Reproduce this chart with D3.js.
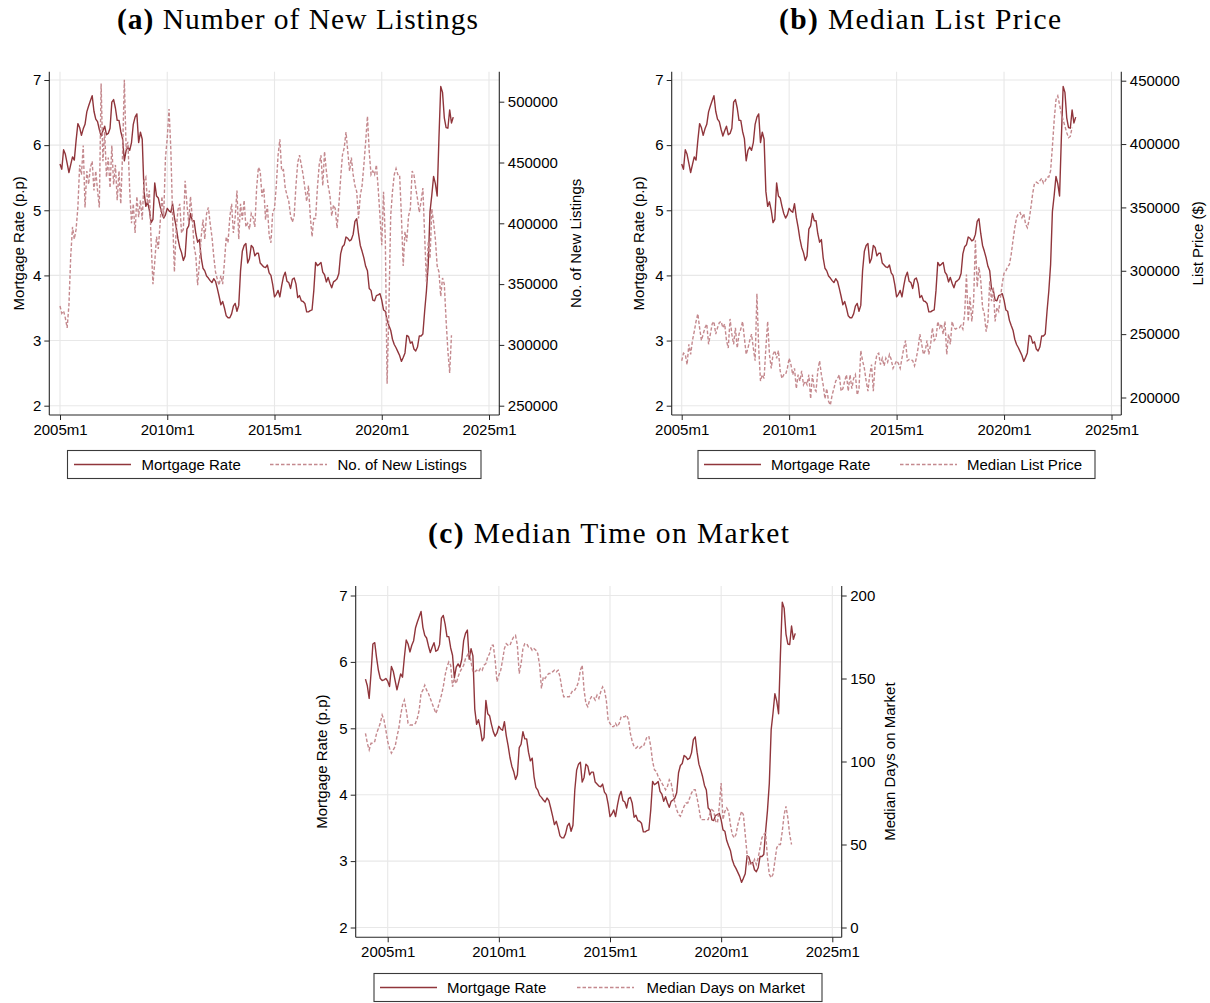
<!DOCTYPE html>
<html>
<head>
<meta charset="utf-8">
<script src="https://cdn.jsdelivr.net/npm/d3@7"></script>
<style>
  body { margin: 0; background: #fff; }
  svg text { font-family: "Liberation Sans", Arial, sans-serif; fill: #000; }
  svg text.title { font-family: "Liberation Serif", "Times New Roman", serif; }
</style>
</head>
<body>
<svg id="chart" width="1210" height="1003"></svg>
<script>
// ---- Data -----------------------------------------------------------
// Month index: 0 = 2005m1, -12 = 2004m1.

// 30-year fixed mortgage rate, monthly, 2004m1 - 2023m5
const rateStart = -12;
const mortgageRate = [
  5.74,5.64,5.45,5.83,6.27,6.29,6.06,5.87,5.75,5.72,5.73,5.75,
  5.71,5.63,5.93,5.86,5.72,5.58,5.70,5.82,5.77,6.07,6.33,6.27,
  6.15,6.25,6.32,6.51,6.60,6.68,6.76,6.52,6.40,6.36,6.24,6.14,
  6.22,6.29,6.16,6.18,6.26,6.66,6.70,6.57,6.38,6.38,6.21,6.10,
  5.76,5.92,5.97,5.92,6.04,6.32,6.43,6.48,6.04,6.20,6.09,5.29,
  5.06,5.13,5.00,4.81,4.86,5.42,5.22,5.19,5.06,4.95,4.88,4.93,
  5.03,4.99,4.97,5.10,4.89,4.74,4.56,4.43,4.35,4.23,4.30,4.71,
  4.76,4.95,4.84,4.84,4.64,4.51,4.55,4.27,4.11,4.07,3.99,3.96,
  3.92,3.89,3.95,3.91,3.80,3.68,3.55,3.60,3.50,3.38,3.35,3.35,
  3.41,3.53,3.57,3.45,3.54,4.07,4.37,4.46,4.49,4.19,4.26,4.46,
  4.43,4.30,4.34,4.34,4.19,4.16,4.13,4.12,4.16,4.04,4.00,3.86,
  3.67,3.71,3.77,3.67,3.84,3.98,4.05,3.91,3.89,3.80,3.94,3.96,
  3.87,3.66,3.69,3.61,3.60,3.57,3.44,3.44,3.46,3.47,3.77,4.20,
  4.15,4.17,4.20,4.05,4.01,3.90,3.97,3.88,3.81,3.90,3.92,3.95,
  4.03,4.33,4.44,4.47,4.59,4.57,4.53,4.55,4.63,4.83,4.87,4.64,
  4.46,4.37,4.27,4.14,4.07,3.80,3.77,3.62,3.61,3.69,3.70,3.72,
  3.62,3.47,3.45,3.31,3.23,3.16,3.02,2.94,2.89,2.83,2.77,2.68,
  2.74,2.81,3.08,3.06,2.96,2.98,2.87,2.84,2.90,3.07,3.07,3.10,
  3.45,3.76,4.17,4.98,5.23,5.52,5.41,5.22,6.11,6.90,6.81,6.42,
  6.27,6.26,6.54,6.34,6.43
];

// Number of new listings, monthly, 2005m1 - 2023m4
const listingsStart = 0;
const newListings = [
  332000,326000,328000,322000,314000,333000,373000,397000,387000,395000,413000,448000,
  440000,464000,413000,443000,432000,446000,451000,427000,443000,427000,413000,515000,
  451000,475000,438000,454000,429000,464000,432000,448000,419000,443000,416000,457000,
  518000,461000,467000,427000,400000,416000,392000,422000,405000,419000,403000,435000,
  438000,416000,427000,384000,350000,368000,389000,379000,400000,422000,405000,454000,
  470000,494000,461000,405000,360000,395000,411000,416000,392000,395000,435000,416000,
  400000,422000,405000,381000,373000,349000,368000,389000,403000,387000,408000,413000,
  400000,389000,373000,360000,354000,349000,357000,350000,368000,389000,384000,405000,
  416000,392000,405000,427000,387000,416000,403000,419000,397000,400000,395000,408000,
  405000,397000,429000,446000,443000,422000,429000,403000,415000,390000,384000,409000,
  412000,431000,456000,469000,443000,444000,429000,423000,418000,406000,401000,406000,
  431000,450000,456000,448000,440000,429000,418000,431000,406000,389000,404000,404000,
  429000,448000,456000,431000,459000,443000,431000,423000,406000,415000,412000,396000,
  415000,437000,456000,462000,475000,459000,443000,454000,440000,431000,426000,404000,
  423000,431000,448000,467000,488000,459000,440000,443000,440000,448000,429000,406000,
  382000,426000,387000,268000,330000,406000,426000,440000,445000,440000,440000,406000,
  365000,393000,385000,406000,412000,443000,440000,429000,420000,409000,418000,429000,
  390000,352000,385000,371000,412000,401000,387000,365000,360000,340000,355000,350000,
  320000,295000,277000,308000
];

// Median list price ($), monthly, 2005m1 - 2023m3
const priceStart = 0;
const listPrice = [
  229000,235000,234000,226000,242000,234000,245000,252000,260000,266000,255000,245000,
  250000,255000,258000,242000,250000,258000,260000,250000,255000,259000,260000,255000,
  258000,245000,239000,262000,250000,242000,255000,239000,250000,254000,260000,247000,
  234000,239000,245000,250000,239000,229000,282000,239000,213000,218000,215000,239000,
  260000,234000,223000,234000,237000,231000,237000,221000,215000,218000,218000,223000,
  231000,226000,218000,223000,207000,218000,213000,221000,210000,213000,210000,218000,
  199000,218000,207000,205000,221000,229000,218000,210000,199000,207000,197000,194000,
  202000,207000,213000,215000,218000,205000,207000,213000,218000,205000,218000,207000,
  215000,218000,202000,207000,237000,229000,223000,213000,205000,218000,226000,205000,
  226000,234000,235000,226000,231000,225000,231000,228000,234000,230000,223000,226000,
  229000,227000,223000,231000,239000,245000,229000,230000,230000,229000,225000,231000,
  239000,250000,242000,234000,237000,245000,234000,242000,255000,245000,247000,260000,
  255000,258000,250000,260000,234000,250000,242000,260000,255000,254000,255000,255000,
  257000,254000,266000,297000,260000,279000,260000,276000,324000,287000,303000,292000,
  271000,266000,252000,260000,292000,276000,287000,260000,271000,268000,279000,290000,
  298000,300000,303000,305000,313000,324000,334000,342000,345000,346000,342000,345000,
  337000,334000,340000,350000,361000,369000,370000,369000,371000,373000,369000,371000,
  374000,374000,379000,398000,419000,435000,438000,431000,424000,419000,414000,409000,
  405000,406000,413000
];

// Median days on market, monthly, 2004m1 - 2023m3
const domStart = -12;
const daysOnMarket = [
  117,111,107,111,111,112,117,120,123,128,125,119,
  112,108,105,107,109,115,120,128,134,137,131,123,
  122,122,122,123,126,131,141,143,146,143,141,138,
  135,132,129,132,136,140,145,152,157,160,158,145,
  150,147,151,154,156,158,162,164,166,160,154,154,
  155,154,156,155,158,159,163,165,170,170,161,148,
  152,155,161,168,171,170,170,173,175,176,170,153,
  159,168,171,171,169,169,167,168,167,165,158,144,
  151,150,152,153,153,154,155,154,155,151,144,139,
  139,139,139,141,143,143,145,148,155,158,143,135,
  133,137,139,139,137,140,138,142,145,143,137,125,
  123,121,121,123,121,123,127,127,127,128,125,117,
  112,109,108,109,108,109,109,112,115,115,109,100,
  95,94,91,89,87,85,83,85,89,87,81,75,
  71,68,67,70,73,75,75,78,81,83,83,78,
  72,65,65,65,65,65,69,71,70,64,63,73,
  87,65,70,72,70,62,56,54,56,62,66,70,
  68,56,44,38,39,38,41,38,42,48,54,56,
  57,42,32,30,32,40,48,50,50,58,68,73,
  66,56,50
];

// Axis tick labels
const xTickLabels = ["2005m1", "2010m1", "2015m1", "2020m1", "2025m1"];
const rateTicks = [2, 3, 4, 5, 6, 7];
const listingTicks = [250000, 300000, 350000, 400000, 450000, 500000];
const priceTicks = [200000, 250000, 300000, 350000, 400000, 450000];
const domTicks = [0, 50, 100, 150, 200];

// ---- Helpers ----------------------------------------------------------
const monthIndex = s => {
  const [yr, mo] = s.split("m").map(Number);
  return (yr - 2005) * 12 + (mo - 1);
};
const xTicks = xTickLabels.map(monthIndex);
const toPoints = (values, start) => values.map((v, i) => ({ m: start + i, v }));

const SOLID = "#90353b";
const DASHED = "#c4898e";
const GRID = "#e8e8e8";
const AXIS = "#262626";

// ---- Panel layout -----------------------------------------------------
const panels = [
  {
    tag: "(a)", name: " Number of New Listings", titleX: 117, titleW: 361, titleY: 29,
    frame: { l: 49.3, r: 499.3, t: 71.7, b: 415 },
    xRange: [60, 489], yLeftRange: [405.7, 80], yRightRange: [405.7, 101.7],
    series: newListings, seriesStart: listingsStart, rightTicks: listingTicks,
    rateFrom: 0,
    leftTitleX: 18.5, rightTitle: "No. of New Listings", rightTitleX: 575.5,
    legend: { x: 67.5, y: 450.5, w: 413.5, h: 28, s1: 74, t1: 141.5, s2: 270, t2: 337.5,
              label2: "No. of New Listings" }
  },
  {
    tag: "(b)", name: " Median List Price", titleX: 779, titleW: 282, titleY: 29,
    frame: { l: 671.7, r: 1121.3, t: 71.7, b: 415 },
    xRange: [681.7, 1111.5], yLeftRange: [405.7, 80], yRightRange: [397.5, 80.7],
    series: listPrice, seriesStart: priceStart, rightTicks: priceTicks,
    rateFrom: 0,
    leftTitleX: 638.5, rightTitle: "List Price ($)", rightTitleX: 1197.5,
    legend: { x: 698, y: 450.5, w: 397, h: 28, s1: 704, t1: 771, s2: 900, t2: 967,
              label2: "Median List Price" }
  },
  {
    tag: "(c)", name: " Median Time on Market", titleX: 428, titleW: 361, titleY: 543,
    frame: { l: 355.7, r: 841.7, t: 586, b: 937.3 },
    xRange: [387.7, 832.3], yLeftRange: [927.5, 595.5], yRightRange: [927.5, 595.5],
    series: daysOnMarket, seriesStart: domStart, rightTicks: domTicks,
    rateFrom: rateStart,
    leftTitleX: 321.5, rightTitle: "Median Days on Market", rightTitleX: 889.5,
    legend: { x: 374, y: 973.5, w: 448, h: 28, s1: 380, t1: 447, s2: 577, t2: 646.5,
              label2: "Median Days on Market" }
  }
];

const svg = d3.select("#chart");
panels.forEach(drawPanel);

function drawPanel(p) {
  const f = p.frame;
  const g = svg.append("g");

  const x = d3.scaleLinear()
    .domain([xTicks[0], xTicks[xTicks.length - 1]]).range(p.xRange);
  const yL = d3.scaleLinear()
    .domain([rateTicks[0], rateTicks[rateTicks.length - 1]]).range(p.yLeftRange);
  const yR = d3.scaleLinear()
    .domain([p.rightTicks[0], p.rightTicks[p.rightTicks.length - 1]]).range(p.yRightRange);

  // Title
  const title = g.append("text").attr("class", "title")
    .attr("x", p.titleX).attr("y", p.titleY)
    .attr("font-size", 29.5)
    .attr("textLength", p.titleW).attr("lengthAdjust", "spacing");
  title.append("tspan").attr("font-weight", "bold").text(p.tag);
  title.append("tspan").text(p.name);

  // Grid lines
  g.append("g").selectAll("line").data(rateTicks).join("line")
    .attr("x1", f.l).attr("x2", f.r)
    .attr("y1", d => yL(d)).attr("y2", d => yL(d))
    .attr("stroke", GRID).attr("stroke-width", 1.1);
  g.append("g").selectAll("line").data(xTicks).join("line")
    .attr("x1", d => x(d)).attr("x2", d => x(d))
    .attr("y1", f.t).attr("y2", f.b)
    .attr("stroke", GRID).attr("stroke-width", 1.1);

  // Series
  const rateLine = d3.line().x(d => x(d.m)).y(d => yL(d.v));
  const rightLine = d3.line().x(d => x(d.m)).y(d => yR(d.v));
  const ratePts = toPoints(mortgageRate, rateStart).filter(d => d.m >= p.rateFrom);

  g.append("path").datum(ratePts)
    .attr("d", rateLine).attr("fill", "none")
    .attr("stroke", SOLID).attr("stroke-width", 1.4).attr("stroke-linejoin", "round");
  g.append("path").datum(toPoints(p.series, p.seriesStart))
    .attr("d", rightLine).attr("fill", "none")
    .attr("stroke", DASHED).attr("stroke-width", 1.4)
    .attr("stroke-dasharray", "3.5,2");

  // Axes
  const styleAxis = sel => {
    sel.select(".domain").remove();
    sel.selectAll(".tick line").attr("stroke", AXIS);
    sel.selectAll(".tick text").attr("font-size", 15).attr("fill", "#000")
      .attr("font-family", '"Liberation Sans", Arial, sans-serif');
  };
  g.append("g").attr("transform", `translate(${f.l},0)`)
    .call(d3.axisLeft(yL).tickValues(rateTicks).tickSize(5).tickPadding(3)
      .tickFormat(d3.format("d")))
    .call(styleAxis);
  g.append("g").attr("transform", `translate(${f.r},0)`)
    .call(d3.axisRight(yR).tickValues(p.rightTicks).tickSize(5).tickPadding(3.5)
      .tickFormat(d3.format("d")))
    .call(styleAxis);
  g.append("g").attr("transform", `translate(0,${f.b})`)
    .call(d3.axisBottom(x).tickValues(xTicks).tickSize(5).tickPadding(4)
      .tickFormat((d, i) => xTickLabels[i]))
    .call(styleAxis);

  // Axis lines
  const axisLine = (x1, y1, x2, y2) => g.append("line")
    .attr("x1", x1).attr("y1", y1).attr("x2", x2).attr("y2", y2)
    .attr("stroke", AXIS).attr("stroke-width", 1.1);
  axisLine(f.l, f.t, f.l, f.b);
  axisLine(f.r, f.t, f.r, f.b);
  axisLine(f.l, f.b, f.r, f.b);

  // Axis titles
  const midY = (f.t + f.b) / 2;
  g.append("text")
    .attr("transform", `translate(${p.leftTitleX},${midY}) rotate(-90)`)
    .attr("text-anchor", "middle").attr("dominant-baseline", "central")
    .attr("font-size", 15).text("Mortgage Rate (p.p)");
  g.append("text")
    .attr("transform", `translate(${p.rightTitleX},${midY}) rotate(-90)`)
    .attr("text-anchor", "middle").attr("dominant-baseline", "central")
    .attr("font-size", 15).text(p.rightTitle);

  // Legend
  const L = p.legend;
  const lg = g.append("g");
  const cy = L.y + L.h / 2;
  lg.append("rect").attr("x", L.x).attr("y", L.y).attr("width", L.w).attr("height", L.h)
    .attr("fill", "#fff").attr("stroke", "#3a3a3a").attr("stroke-width", 1.1);
  lg.append("line").attr("x1", L.s1).attr("x2", L.s1 + 57).attr("y1", cy).attr("y2", cy)
    .attr("stroke", SOLID).attr("stroke-width", 1.4);
  lg.append("text").attr("x", L.t1).attr("y", cy).attr("dominant-baseline", "central")
    .attr("font-size", 15).text("Mortgage Rate");
  lg.append("line").attr("x1", L.s2).attr("x2", L.s2 + 57).attr("y1", cy).attr("y2", cy)
    .attr("stroke", DASHED).attr("stroke-width", 1.4).attr("stroke-dasharray", "3.5,2");
  lg.append("text").attr("x", L.t2).attr("y", cy).attr("dominant-baseline", "central")
    .attr("font-size", 15).text(L.label2);
}
</script>
</body>
</html>
